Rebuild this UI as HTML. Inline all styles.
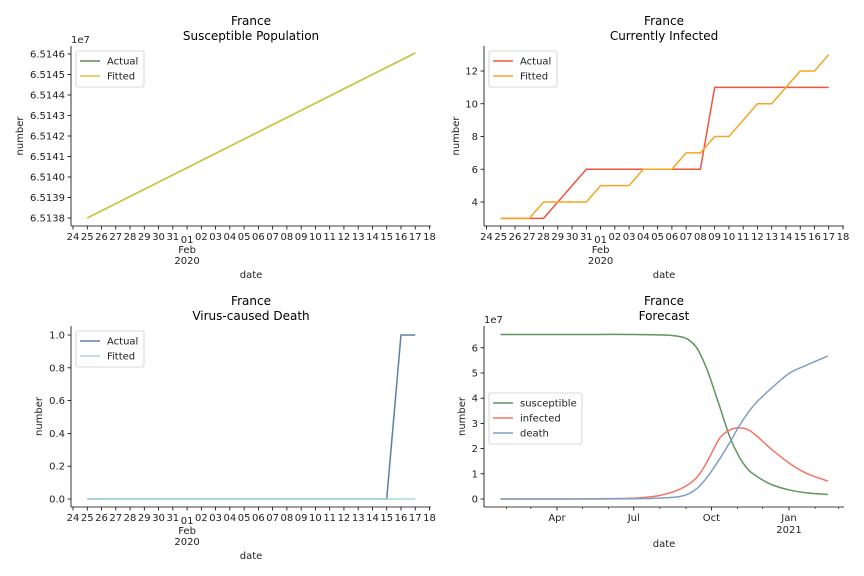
<!DOCTYPE html>
<html><head><meta charset="utf-8">
<style>
html,body{margin:0;padding:0;background:#fff;}
svg{display:block;font-family:"DejaVu Sans","Liberation Sans",sans-serif;}
</style></head>
<body>
<svg id="chart" width="864" height="576" viewBox="0 0 864 576" xmlns="http://www.w3.org/2000/svg"></svg>
<script>
// ---- Data ----
const dayLabels = ["24","25","26","27","28","29","30","31","01","02","03","04","05","06","07","08","09","10","11","12","13","14","15","16","17","18"];
const susActual = [65138000,65138350,65138700,65139050,65139400,65139750,65140100,65140450,65140800,65141150,65141500,65141850,65142200,65142550,65142900,65143250,65143600,65143950,65144300,65144650,65145000,65145350,65145700,65146050];
const susFitted = [65138000,65138350,65138700,65139050,65139400,65139750,65140100,65140450,65140800,65141150,65141500,65141850,65142200,65142550,65142900,65143250,65143600,65143950,65144300,65144650,65145000,65145350,65145700,65146050];
const infActual = [3,3,3,3,4,5,6,6,6,6,6,6,6,6,6,11,11,11,11,11,11,11,11,11];
const infFitted = [3,3,3,4,4,4,4,5,5,5,6,6,6,7,7,8,8,9,10,10,11,12,12,13];
const deathActual = [0,0,0,0,0,0,0,0,0,0,0,0,0,0,0,0,0,0,0,0,0,0,1,1];
const deathFitted = [0,0,0,0,0,0,0,0,0,0,0,0,0,0,0,0,0,0,0,0,0,0,0,0];
const susTicks = [6.5138,6.5139,6.5140,6.5141,6.5142,6.5143,6.5144,6.5145,6.5146];
const susTickLabels = ["6.5138","6.5139","6.5140","6.5141","6.5142","6.5143","6.5144","6.5145","6.5146"];
const infTicks = [4,6,8,10,12];
const deathTicks = [0,0.2,0.4,0.6,0.8,1.0];
const deathTickLabels = ["0.0","0.2","0.4","0.6","0.8","1.0"];
// forecast: day of year 2020 (Jan 1 = 0), values in 1e7
const fcDays = [24,60,100,140,180,200,214,230,242,249,257,265,272,284,296,307,318,327,335,346,366,386,412];
const fcSus  = [6.53,6.53,6.53,6.53,6.53,6.52,6.51,6.48,6.40,6.27,5.98,5.45,4.85,3.65,2.45,1.67,1.15,0.92,0.75,0.56,0.36,0.25,0.18];
const fcInf  = [0.0,0.0,0.0,0.01,0.03,0.08,0.15,0.30,0.48,0.63,0.87,1.25,1.67,2.42,2.74,2.82,2.74,2.52,2.28,1.95,1.43,1.03,0.71];
const fcDeath= [0.0,0.0,0.0,0.0,0.01,0.02,0.04,0.07,0.14,0.24,0.42,0.70,1.00,1.60,2.25,2.90,3.45,3.82,4.08,4.42,4.98,5.3,5.67];
const fcTicks = [0,1,2,3,4,5,6];
const fcMonthLabels = ["Apr","Jul","Oct","Jan"];
const fcMonthDays = [91,182,274,366];
const fcMinorDays = [31,60,121,152,213,244,305,335,397,425];

const NS="http://www.w3.org/2000/svg";
const svg=document.getElementById('chart');
function mk(tag,attrs,parent,text){const e=document.createElementNS(NS,tag);for(const k in attrs)e.setAttribute(k,attrs[k]);if(text!==undefined)e.textContent=text;(parent||svg).appendChild(e);return e;}

function drawAxesFrame(g,L,R,T,B){
  const ys=mk('line',{x1:L,y1:T,x2:L,y2:B,stroke:'#000','stroke-width':0.8},g);
  
  const xs=mk('line',{x1:L,y1:B,x2:R,y2:B,stroke:'#000','stroke-width':0.8},g);
  
}
function title(g,cx,y,t2){
  const a=mk('text',{x:cx,y:y,'text-anchor':'middle','font-size':12,fill:'#000'},g,'France');
  
  const b=mk('text',{x:cx,y:y+15,'text-anchor':'middle','font-size':12,fill:'#000'},g,t2);
  
}
function yAxis(g,L,vals,labels,ys,ylabX,T,B){
  vals.forEach((v,i)=>{
    const y=ys(v);
    mk('line',{x1:L-3.5,y1:y,x2:L,y2:y,stroke:'#000','stroke-width':0.8},g);
    const t=mk('text',{x:L-6,y:y+3.5,'text-anchor':'end','font-size':10,fill:'#222'},g,labels[i]);
    
  });
  const cy=(T+B)/2;
  const yl=mk('text',{x:ylabX,y:cy,'text-anchor':'middle','font-size':10,fill:'#222',transform:`rotate(-90 ${ylabX} ${cy})`},g,'number');
  
}
function dayXAxis(g,xs,B,cx){
  dayLabels.forEach((lab,i)=>{
    const x=xs(i);
    mk('line',{x1:x,y1:B,x2:x,y2:B+3.5,stroke:'#000','stroke-width':0.8},g);
    const yoff = (lab==="01")?14:11;
    const t=mk('text',{x:x,y:B+yoff+3,'text-anchor':'middle','font-size':10,fill:'#222'},g,lab);
    
  });
  const x1=xs(8);
  const f=mk('text',{x:x1,y:B+27,'text-anchor':'middle','font-size':10,fill:'#222'},g,'Feb');
  
  const yr=mk('text',{x:x1,y:B+38,'text-anchor':'middle','font-size':10,fill:'#222'},g,'2020');
  
  const d=mk('text',{x:cx,y:B+52,'text-anchor':'middle','font-size':10,fill:'#222'},g,'date');
  
}
function line(g,xsArr,ysArr,color,name,w){
  const p=mk('polyline',{points:xsArr.map((x,i)=>x.toFixed(2)+','+ysArr[i].toFixed(2)).join(' '),fill:'none',stroke:color,'stroke-width':w||1.5,'stroke-linejoin':'round'},g);
  
}
function legend(g,x,y,w,entries){
  const h=entries.length*15+6;
  const box=mk('rect',{x:x,y:y,width:w,height:h,rx:2,fill:'#fff','fill-opacity':0.8,stroke:'#ccc','stroke-width':0.8},g);
  
  entries.forEach((e,i)=>{
    const yy=y+10+i*15;
    const eg=mk('g',{},g);
    
    
    mk('line',{x1:x+4,y1:yy,x2:x+24,y2:yy,stroke:e[1],'stroke-width':1.5},eg);
    mk('text',{x:x+31,y:yy+3.5,'font-size':10,fill:'#222'},eg,e[0]);
  });
}

function dayPanel(cfg){
  const g=mk('g',{});
  
  const xs=i=>cfg.x24+i*14.26;
  drawAxesFrame(g,cfg.L,cfg.R,cfg.T,cfg.B);
  title(g,(cfg.L+cfg.R)/2,cfg.titleY,cfg.title);
  yAxis(g,cfg.L,cfg.ticks,cfg.tickLabels,cfg.ys,cfg.ylabX,cfg.T,cfg.B);
  dayXAxis(g,xs,cfg.B,(cfg.L+cfg.R)/2);
  const X=cfg.a.map((_,i)=>xs(i+1));
  line(g,X,cfg.a.map(cfg.ys),cfg.ca,'actual-line');
  line(g,X,cfg.f.map(cfg.ys),cfg.cf,'fitted-line');
  legend(g,cfg.L+5,cfg.T+5,68,[['Actual',cfg.ca],['Fitted',cfg.cf]]);
  return g;
}
const g1=dayPanel({name:'susceptible-population-panel',L:71,R:431,T:46,B:226,x24:73,titleY:25,title:'Susceptible Population',
  ticks:susTicks,tickLabels:susTickLabels,ys:v=>{const vv=v>1e6?v/1e7:v;return 218-(vv-6.5138)/0.0001*20.5;},ylabX:23,
  a:susActual,f:susFitted,ca:'#5b8c5a',cf:'#d4c63a'});
mk('text',{x:71,y:43,'font-size':10,fill:'#222'},g1,'1e7');
dayPanel({name:'currently-infected-panel',L:484,R:844,T:46,B:226,x24:486.5,titleY:25,title:'Currently Infected',
  ticks:infTicks,tickLabels:infTicks.map(String),ys:v=>202-(v-4)*16.375,ylabX:459,
  a:infActual,f:infFitted,ca:'#f0553d',cf:'#f5a623'});
dayPanel({name:'virus-caused-death-panel',L:71,R:431,T:326,B:507,x24:73,titleY:305,title:'Virus-caused Death',
  ticks:deathTicks,tickLabels:deathTickLabels,ys:v=>499-v*164,ylabX:42,
  a:deathActual,f:deathFitted,ca:'#5f7fab',cf:'#a8d8dc'});

(function(){
  const L=484,R=844,T=326,B=507;
  const g=mk('g',{});
  
  const xs=d=>557+(d-91)*0.8436;
  const ys=v=>499-v*25.2;
  drawAxesFrame(g,L,R,T,B);
  title(g,(L+R)/2,305,'Forecast');
  yAxis(g,L,fcTicks,fcTicks.map(String),ys,465,T,B);
  mk('text',{x:484,y:323,'font-size':10,fill:'#222'},g,'1e7');
  fcMonthDays.forEach((d,i)=>{
    const x=xs(d);
    mk('line',{x1:x,y1:B,x2:x,y2:B+3.5,stroke:'#000','stroke-width':0.8},g);
    const t=mk('text',{x:x,y:B+14,'text-anchor':'middle','font-size':10,fill:'#222'},g,fcMonthLabels[i]);
    
  });
  fcMinorDays.forEach(d=>{const x=xs(d);mk('line',{x1:x,y1:B,x2:x,y2:B+2,stroke:'#000','stroke-width':0.6},g);});
  const yr=mk('text',{x:xs(366),y:B+26,'text-anchor':'middle','font-size':10,fill:'#222'},g,'2021');
  
  const dt=mk('text',{x:(L+R)/2,y:B+40,'text-anchor':'middle','font-size':10,fill:'#222'},g,'date');
  
  function smooth(days,vals,color,name){
    const P=days.map((d,i)=>[xs(d),ys(vals[i])]);
    let dstr='M'+P[0][0]+','+P[0][1];
    for(let i=0;i<P.length-1;i++){
      const p0=P[Math.max(0,i-1)],p1=P[i],p2=P[i+1],p3=P[Math.min(P.length-1,i+2)];
      const c1=[p1[0]+(p2[0]-p0[0])/6,p1[1]+(p2[1]-p0[1])/6];
      const c2=[p2[0]-(p3[0]-p1[0])/6,p2[1]-(p3[1]-p1[1])/6];
      dstr+=` C${c1[0]},${c1[1]} ${c2[0]},${c2[1]} ${p2[0]},${p2[1]}`;
    }
    const p=mk('path',{d:dstr,fill:'none',stroke:color,'stroke-width':1.5},g);
    
  }
  smooth(fcDays,fcSus,'#5f935f','susceptible-line');
  smooth(fcDays,fcInf,'#f47563','infected-line');
  smooth(fcDays,fcDeath,'#819ec6','death-line');
  legend(g,489,393,93,[['susceptible','#5f935f'],['infected','#f47563'],['death','#819ec6']]);
})();
</script>
</body></html>
